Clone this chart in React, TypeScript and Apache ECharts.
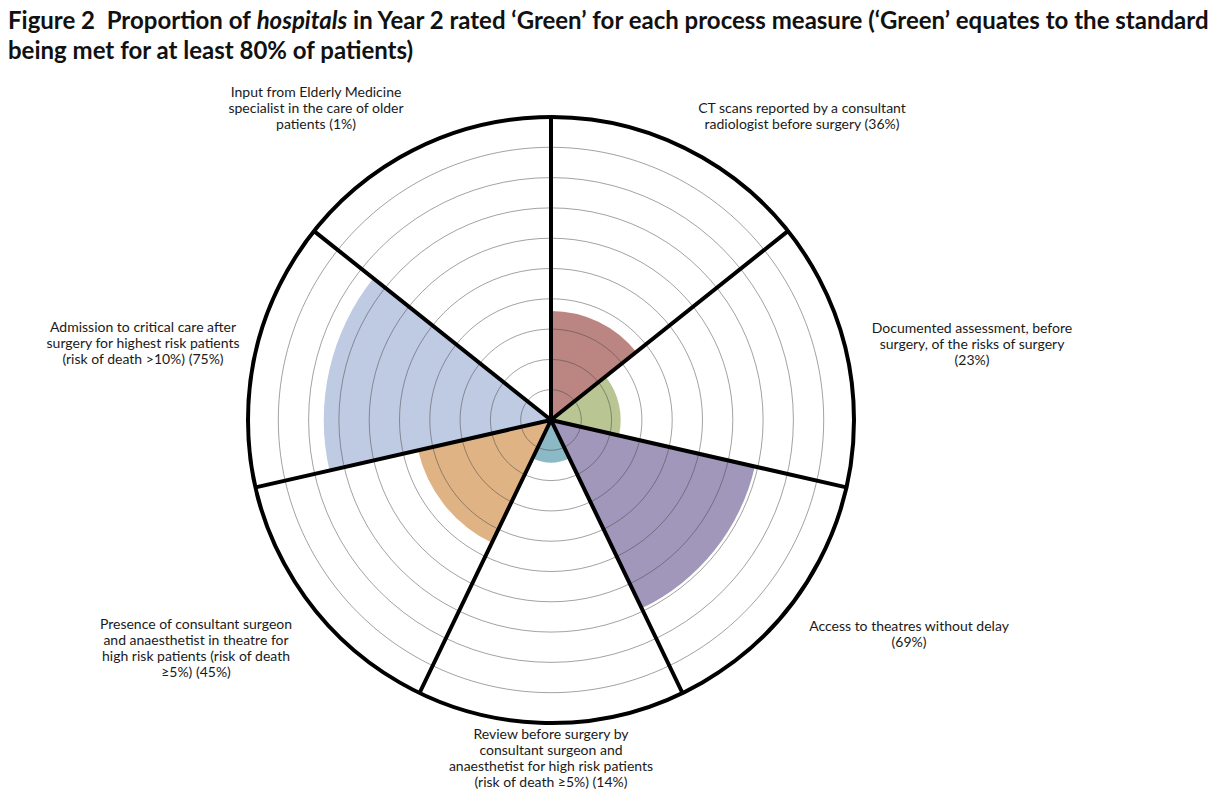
import React, { useEffect, useRef } from "react";
import * as echarts from "echarts";

// ---- data ----
const categories = [
  "CT scans reported by a consultant\nradiologist before surgery (36%)",
  "Documented assessment, before\nsurgery, of the risks of surgery\n(23%)",
  "Access to theatres without delay\n(69%)",
  "Review before surgery by\nconsultant surgeon and\nanaesthetist for high risk patients\n(risk of death ≥5%) (14%)",
  "Presence of consultant surgeon\nand anaesthetist in theatre for\nhigh risk patients (risk of death\n≥5%) (45%)",
  "Admission to critical care after\nsurgery for highest risk patients\n(risk of death >10%) (75%)",
  "Input from Elderly Medicine\nspecialist in the care of older\npatients (1%)",
];
const values = [36, 23, 69, 14, 45, 75, 1];
const colors = ["#bb8581", "#b9c593", "#a197ba", "#8cb9c6", "#dfb383", "#bfcae3", "#c9c9d8"];

// ---- layout (label centres, px) ----
const labelPos: [number, number][] = [
  [802, 115],
  [972, 343],
  [909, 633],
  [551, 757],
  [196, 647],
  [143, 342],
  [316, 107],
];

const FONT = "Lato, 'Open Sans', sans-serif";

export default function App() {
  const ref = useRef<HTMLDivElement>(null);
  useEffect(() => {
    if (!ref.current) return;
    const chart = echarts.init(ref.current, undefined, { renderer: "svg" });
    chart.setOption({
      animation: false,
      backgroundColor: "#ffffff",
      title: {
        left: 8,
        top: 4,
        padding: 0,
        text:
          "Figure 2  Proportion of {i|hospitals} in Year 2 rated ‘Green’ for each process measure (‘Green’ equates to the standard\nbeing met for at least 80% of patients)",
        textStyle: {
          fontFamily: FONT,
          fontWeight: "bold",
          fontSize: 24,
          lineHeight: 30,
          color: "#111111",
          rich: {
            i: {
              fontFamily: FONT,
              fontWeight: "bold",
              fontStyle: "italic",
              fontSize: 24,
              lineHeight: 30,
              color: "#111111",
            },
          },
        },
      },
      polar: { center: [551, 420], radius: 303 },
      angleAxis: {
        type: "category",
        data: categories,
        startAngle: 90,
        clockwise: true,
        boundaryGap: true,
        z: 10,
        axisLine: { show: true, lineStyle: { color: "#000000", width: 4 } },
        axisTick: { show: false },
        axisLabel: { show: false },
        splitLine: { show: true, lineStyle: { color: "#000000", width: 4 } },
      },
      radiusAxis: {
        type: "value",
        min: 0,
        max: 100,
        interval: 10,
        z: 5,
        axisLine: { show: false },
        axisTick: { show: false },
        axisLabel: { show: false },
        splitLine: { show: true, lineStyle: { color: "rgba(70,70,70,0.5)", width: 1 } },
      },
      series: [
        {
          type: "bar",
          coordinateSystem: "polar",
          barCategoryGap: "0%",
          barGap: "0%",
          data: values.map((v, i) => ({
            value: v,
            itemStyle: { color: colors[i] },
          })),
        },
      ],
      graphic: categories.map((c, i) => ({
        type: "text",
        x: labelPos[i][0],
        y: labelPos[i][1],
        style: {
          text: c,
          align: "center",
          verticalAlign: "middle",
          fontFamily: FONT,
          fontSize: 14,
          lineHeight: 16,
          fill: "#1a1a1a",
        },
      })),
    });
    return () => chart.dispose();
  }, []);
  return (
    <div
      ref={ref}
      style={{ position: "absolute", left: 0, top: 0, width: 1224, height: 798 }}
    />
  );
}
